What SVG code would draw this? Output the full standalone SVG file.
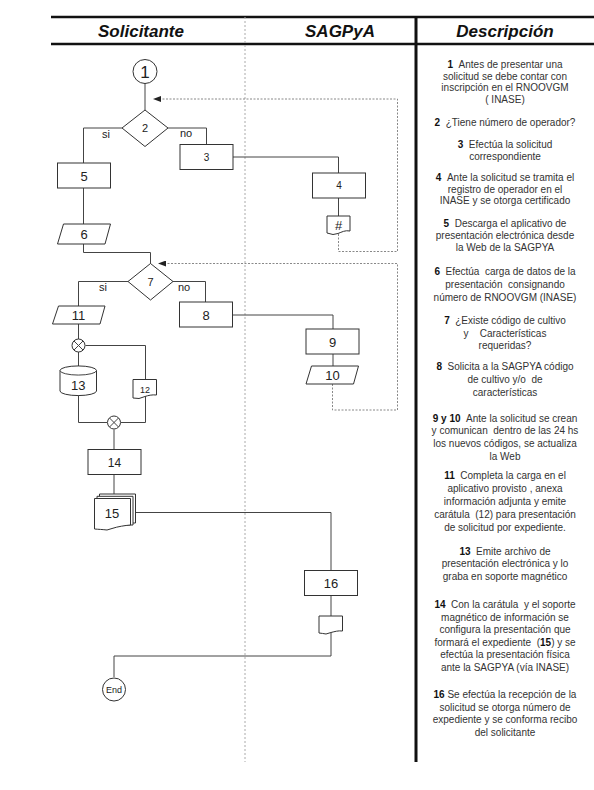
<svg xmlns="http://www.w3.org/2000/svg" width="594" height="790" viewBox="0 0 594 790">
<defs>
<style>
.frame{stroke:#111;fill:none}
.n{fill:#fff;stroke:#333;stroke-width:1}
.l{fill:none;stroke:#444;stroke-width:1}
.d{fill:none;stroke:#888;stroke-width:1;stroke-dasharray:2,1.5}
.t{font-family:"Liberation Sans",Arial,sans-serif;fill:#222;text-anchor:middle}
.h{font-family:"Liberation Sans",Arial,sans-serif;font-weight:bold;font-style:italic;font-size:17px;fill:#111;text-anchor:middle}
.desc{font-family:"Liberation Sans",Arial,sans-serif;font-size:10px;fill:#333;text-anchor:middle}
.desc tspan.b{font-weight:bold;fill:#111}
</style>
<marker id="ah" markerWidth="8" markerHeight="6" refX="7" refY="3" orient="auto" markerUnits="userSpaceOnUse">
<path d="M0,0 L8,3 L0,6 Z" fill="#222"/>
</marker>
</defs>
<rect width="594" height="790" fill="#fff"/>

<!-- frame -->
<g id="frame">
<line class="frame" x1="51" y1="17" x2="594" y2="17" stroke-width="2.5"/>
<line class="frame" x1="51" y1="44" x2="594" y2="44" stroke-width="2.5"/>
<line class="frame" x1="416" y1="17" x2="416" y2="762" stroke-width="3"/>
<line x1="245" y1="17" x2="245" y2="762" stroke="#aaa" stroke-width="1" stroke-dasharray="2,2"/>
<text class="h" x="141" y="37">Solicitante</text>
<text class="h" x="340" y="37">SAGPyA</text>
<text class="h" x="505" y="37">Descripción</text>
</g>

<!-- connectors -->
<g id="connectors">
<line class="l" x1="145" y1="83" x2="145" y2="110"/>
<polyline class="l" points="122,128 83.5,128 83.5,163"/>
<polyline class="l" points="168,128 206.5,128 206.5,144"/>
<polyline class="l" points="233,157 338.5,157 338.5,173"/>
<line class="l" x1="338.5" y1="198" x2="338.5" y2="216"/>
<polyline class="d" points="338.5,234 338.5,251.5 397.5,251.5 397.5,99 154,99" marker-end="url(#ah)"/>
<line class="l" x1="83.5" y1="188" x2="83.5" y2="224"/>
<polyline class="l" points="83.5,244 83.5,252.5 150.5,252.5 150.5,264"/>
<polyline class="d" points="332.5,384 332.5,410 397.5,410 397.5,263.5 159,263.5" marker-end="url(#ah)"/>
<polyline class="l" points="128,281.5 78.5,281.5 78.5,306"/>
<polyline class="l" points="173,281.5 205.5,281.5 205.5,302"/>
<polyline class="l" points="232,315 333,315 333,329"/>
<line class="l" x1="333" y1="354" x2="333" y2="366"/>
<line class="l" x1="78.5" y1="324" x2="78.5" y2="339"/>
<polyline class="l" points="85.5,345.5 145.5,345.5 145.5,379.5"/>
<line class="l" x1="78.5" y1="352" x2="78.5" y2="366"/>
<polyline class="l" points="78.5,392 78.5,422.5 107,422.5"/>
<polyline class="l" points="145.5,396 145.5,422.5 121,422.5"/>
<line class="l" x1="114" y1="429.5" x2="114" y2="449.5"/>
<line class="l" x1="114" y1="474.5" x2="114" y2="494"/>
<polyline class="l" points="135.5,512.5 331,512.5 331,570"/>
<line class="l" x1="331" y1="595.5" x2="331" y2="616"/>
<polyline class="l" points="331,633 331,656 114,656 114,677"/>
</g>

<!-- nodes -->
<g id="n1"><circle class="n" cx="145" cy="71.5" r="12"/><text class="t" x="145" y="77.5" font-size="17">1</text></g>
<g id="n2"><polygon class="n" points="145,110 168,128 145,146.5 122,128"/><text class="t" x="145" y="132" font-size="11">2</text></g>
<text class="t" x="106" y="138" font-size="11">si</text>
<text class="t" x="186" y="137" font-size="11">no</text>
<g id="n3"><rect class="n" x="180" y="144.5" width="53" height="25"/><text class="t" x="206.5" y="161" font-size="10">3</text></g>
<g id="n4"><rect class="n" x="312.5" y="173" width="53" height="25"/><text class="t" x="339" y="189" font-size="10">4</text></g>
<g id="n4doc"><path class="n" d="M327,216 H350 V231 C345,230 342,232 338,233.5 L333,234.5 C331,234 329,233.5 327,233 Z"/><text class="t" x="338.5" y="230" font-size="13">#</text></g>
<g id="n5"><rect class="n" x="57.5" y="163" width="53" height="25"/><text class="t" x="84" y="180.5" font-size="13">5</text></g>
<g id="n6"><polygon class="n" points="63.5,224 110.5,224 105,244 57.5,244"/><text class="t" x="84" y="239" font-size="13">6</text></g>
<g id="n7"><polygon class="n" points="150.5,263.5 173,281.5 150.5,300 128,281.5"/><text class="t" x="150.5" y="286" font-size="11">7</text></g>
<text class="t" x="103" y="291" font-size="11">si</text>
<text class="t" x="184" y="291" font-size="11">no</text>
<g id="n8"><rect class="n" x="179.5" y="302" width="53" height="25"/><text class="t" x="206" y="319.5" font-size="13">8</text></g>
<g id="n9"><rect class="n" x="306" y="329" width="53" height="25"/><text class="t" x="332.5" y="346.5" font-size="13">9</text></g>
<g id="n10"><polygon class="n" points="311.5,366 358.5,366 353.5,384 306,384" /><text class="t" x="332.5" y="380" font-size="13">10</text></g>
<g id="n11"><polygon class="n" points="58.5,306 105,306 100,324 52.5,324"/><text class="t" x="78.5" y="320" font-size="13">11</text></g>
<g id="j1"><circle class="n" cx="78.5" cy="345.5" r="6.5"/><path class="l" d="M74,341 L83,350 M83,341 L74,350"/></g>
<g id="n13"><path class="n" d="M60,370.5 A18,4.5 0 0 1 96.5,370.5 V391 A18,4.5 0 0 1 60,391 Z"/><path class="l" d="M60,370.5 A18,4.5 0 0 0 96.5,370.5"/><text class="t" x="78.3" y="390" font-size="13">13</text></g>
<g id="n12"><path class="n" d="M133,379.5 H156.5 V395 C152,394.5 148,395.5 145,396.5 L139,398.5 C137,398.3 135,398.2 133,398 Z"/><text class="t" x="145" y="393" font-size="9">12</text></g>
<g id="j2"><circle class="n" cx="114" cy="422.5" r="6.5"/><path class="l" d="M109.5,418 L118.5,427 M118.5,418 L109.5,427"/></g>
<g id="n14"><rect class="n" x="88" y="449.5" width="53" height="25"/><text class="t" x="114.5" y="466.5" font-size="12">14</text></g>
<g id="n15"><path class="n" d="M99.5,494 H135.5 V523 L99.5,523 Z"/><path class="n" d="M97,496.3 H133 V525 L97,525 Z"/><path class="n" d="M94.5,498.5 H130.5 V525 C125,525.5 118,526.5 112,528.5 L107,530 C103,529.5 98,529.3 94.5,529 Z"/><text class="t" x="112" y="518" font-size="13">15</text></g>
<g id="n16"><rect class="n" x="304.5" y="570.5" width="53" height="25"/><text class="t" x="331" y="587.5" font-size="13">16</text></g>
<g id="n16doc"><path class="n" d="M319,616 H342.5 V631 C338,630.5 335,631.5 331,632.5 L326,634 C324,633.5 321,633.3 319,633 Z"/></g>
<g id="end"><circle class="n" cx="114" cy="689.5" r="11.5"/><text class="t" x="114" y="692.5" font-size="9">End</text></g>

<!-- description -->
<g id="desc" class="desc">
<text x="505" y="68"><tspan class="b">1</tspan> &#160;Antes de presentar una</text>
<text x="505" y="80">solicitud se debe contar con</text>
<text x="505" y="91">inscripción en el RNOOVGM</text>
<text x="505" y="103">( INASE)</text>
<text x="505" y="126"><tspan class="b">2</tspan> &#160;¿Tiene número de operador?</text>
<text x="505" y="148"><tspan class="b">3</tspan> &#160;Efectúa la solicitud</text>
<text x="505" y="160">correspondiente</text>
<text x="505" y="181"><tspan class="b">4</tspan> &#160;Ante la solicitud se tramita el</text>
<text x="505" y="193">registro de operador en el</text>
<text x="505" y="204">INASE y se otorga certificado</text>
<text x="505" y="227"><tspan class="b">5</tspan> &#160;Descarga el aplicativo de</text>
<text x="505" y="239">presentación electrónica desde</text>
<text x="505" y="251">la Web de la SAGPYA</text>
<text x="505" y="275"><tspan class="b">6</tspan> &#160;Efectúa &#160;carga de datos de la</text>
<text x="505" y="288">presentación &#160;consignando</text>
<text x="505" y="301">número de RNOOVGM (INASE)</text>
<text x="505" y="324"><tspan class="b">7</tspan> &#160;¿Existe código de cultivo</text>
<text x="505" y="337">y &#160;&#160;&#160;Características</text>
<text x="505" y="349">requeridas?</text>
<text x="505" y="370"><tspan class="b">8</tspan> &#160;Solicita a la SAGPYA código</text>
<text x="505" y="383">de cultivo y/o &#160;de</text>
<text x="505" y="396">características</text>
<text x="505" y="422"><tspan class="b">9 y 10</tspan> &#160;Ante la solicitud se crean</text>
<text x="505" y="434">y comunican &#160;dentro de las 24 hs</text>
<text x="505" y="447">los nuevos códigos, se actualiza</text>
<text x="505" y="460">la Web</text>
<text x="505" y="479"><tspan class="b">11</tspan> &#160;Completa la carga en el</text>
<text x="505" y="492">aplicativo provisto , anexa</text>
<text x="505" y="505">información adjunta y emite</text>
<text x="505" y="518">carátula &#160;(12) para presentación</text>
<text x="505" y="531">de solicitud por expediente.</text>
<text x="505" y="555"><tspan class="b">13</tspan> &#160;Emite archivo de</text>
<text x="505" y="567">presentación electrónica y lo</text>
<text x="505" y="580">graba en soporte magnético</text>
<text x="505" y="608"><tspan class="b">14</tspan> &#160;Con la carátula &#160;y el soporte</text>
<text x="505" y="621">magnético de información se</text>
<text x="505" y="633">configura la presentación que</text>
<text x="505" y="646">formará el expediente &#160;(<tspan class="b">15</tspan>) y se</text>
<text x="505" y="658">efectúa la presentación física</text>
<text x="505" y="671">ante la SAGPYA (vía INASE)</text>
<text x="505" y="698"><tspan class="b">16</tspan> Se efectúa la recepción de la</text>
<text x="505" y="711">solicitud se otorga número de</text>
<text x="505" y="723">expediente y se conforma recibo</text>
<text x="505" y="736">del solicitante</text>
</g>
</svg>
